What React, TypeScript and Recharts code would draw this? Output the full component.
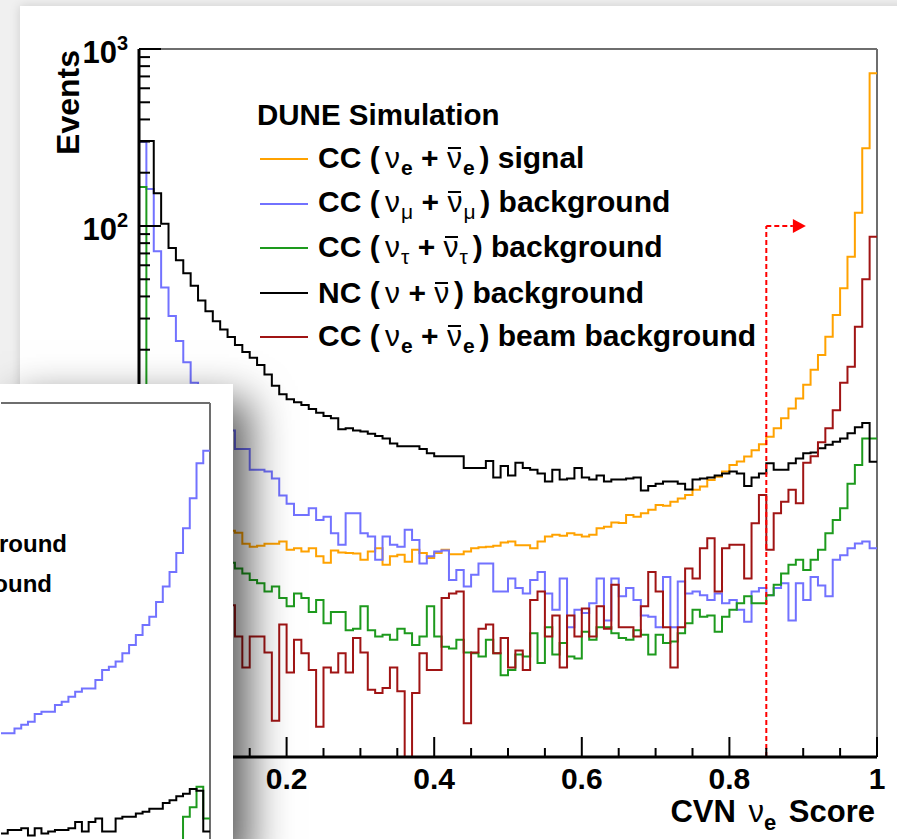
import React from 'react'
import { LineChart, Line, XAxis, YAxis, ReferenceLine, ReferenceDot } from 'recharts'

const FONT = '"Liberation Sans", Arial, Helvetica, sans-serif'

const BIN_WIDTH = 0.01
const MAIN_START = 0
const INSET_START = 0.69

// events per 0.01 bin of CVN nu_e score, bins 0.00 .. 0.99
const ccNueSignal = [
  2.6, 2.2, 2.0, 1.9, 1.9, 1.8, 1.8, 1.75, 1.8, 1.7,
  1.75, 1.8, 1.9, 1.85, 1.6, 1.54, 1.56, 1.6, 1.6, 1.65,
  1.48, 1.51, 1.45, 1.51, 1.36, 1.25, 1.47, 1.43, 1.42, 1.41,
  1.3, 1.45, 1.51, 1.22, 1.36, 1.39, 1.27, 1.48, 1.42, 1.33,
  1.42, 1.48, 1.4, 1.4, 1.45, 1.51, 1.53, 1.54, 1.56, 1.63,
  1.65, 1.57, 1.57, 1.51, 1.65, 1.76, 1.8, 1.78, 1.84, 1.8,
  1.76, 1.8, 1.96, 2.0, 2.11, 2.1, 2.33, 2.28, 2.38, 2.49,
  2.65, 2.63, 2.77, 2.89, 3.02, 3.23, 3.37, 3.67, 3.83, 4.1,
  4.47, 4.67, 4.98, 5.4, 5.85, 6.45, 7.2, 8.2, 9.3, 10.6,
  12.7, 15.4, 18.7, 23.7, 31.4, 44.5, 67, 119, 275, 730,
]

const ccNumuBkg = [
  299, 162, 72, 45, 31, 22.4, 17, 13, 11.5, 10,
  9, 8, 7.0, 5.5, 5.5, 4.2, 4.2, 4.1, 3.75, 3.0,
  2.7, 2.33, 2.33, 2.54, 2.18, 2.28, 1.84, 1.58, 2.38, 2.38,
  1.84, 1.76, 1.3, 1.76, 1.58, 1.54, 1.92, 1.68, 1.24, 1.36,
  1.45, 1.47, 1.0, 1.14, 0.92, 1.07, 1.24, 1.24, 0.86, 0.86,
  1.02, 0.9, 0.84, 1.0, 1.11, 0.84, 0.68, 1.02, 0.54, 0.68,
  0.65, 0.74, 1.02, 0.59, 1.02, 0.81, 0.9, 0.77, 0.63, 0.62,
  0.54, 1.04, 0.54, 0.98, 0.84, 0.86, 0.82, 0.77, 0.84, 0.74,
  0.77, 0.68, 0.58, 0.86, 0.9, 0.82, 0.9, 0.96, 0.59, 0.96,
  0.77, 1.04, 0.93, 0.81, 1.3, 1.38, 1.51, 1.61, 1.65, 1.51,
]

const ccNutauBkg = [
  166, 5.0, 3.4, 2.8, 2.4, 2.1, 1.9, 1.7, 1.6, 1.5,
  1.4, 1.35, 1.25, 1.16, 1.09, 1.0, 0.96, 0.86, 0.92, 0.79,
  0.71, 0.84, 0.79, 0.66, 0.77, 0.57, 0.66, 0.66, 0.52, 0.53,
  0.71, 0.52, 0.48, 0.49, 0.46, 0.53, 0.5, 0.43, 0.48, 0.71,
  0.48, 0.42, 0.41, 0.46, 0.39, 0.385, 0.37, 0.46, 0.385, 0.29,
  0.31, 0.38, 0.37, 0.5, 0.34, 0.54, 0.38, 0.44, 0.37, 0.36,
  0.51, 0.46, 0.54, 0.54, 0.5, 0.47, 0.46, 0.52, 0.49, 0.38,
  0.49, 0.44, 0.45, 0.5, 0.57, 0.68, 0.62, 0.63, 0.51, 0.62,
  0.68, 0.74, 0.81, 0.74, 0.74, 0.82, 0.94, 1.09, 1.22, 1.3,
  1.14, 1.3, 1.48, 1.84, 2.18, 2.54, 3.5, 4.47, 6.3, 6.3,
]

const ncBkg = [
  302, 302, 153, 103, 75, 64, 54, 46, 38, 33,
  29, 26, 23.6, 21.3, 19.4, 18, 16.4, 14.5, 12.5, 11.2,
  10.5, 10.1, 9.75, 9.25, 8.8, 8.45, 8.2, 7.1, 7.2, 7.0,
  6.9, 6.7, 6.5, 6.3, 5.9, 5.7, 5.7, 5.7, 5.5, 5.2,
  5.0, 5.0, 5.0, 5.0, 4.3, 4.3, 4.3, 4.7, 3.8, 4.4,
  3.9, 4.6, 4.3, 4.2, 4.0, 3.6, 4.2, 3.7, 3.75, 4.3,
  3.8, 3.7, 3.9, 3.6, 3.7, 3.7, 3.75, 3.8, 3.2, 3.4,
  3.5, 3.6, 3.6, 3.5, 3.25, 3.7, 3.75, 3.8, 3.9, 4.0,
  4.1, 4.0, 3.4, 3.8, 4.0, 4.56, 4.19, 4.19, 4.56, 4.86,
  5.2, 5.26, 5.55, 5.8, 6.05, 6.3, 6.75, 7.3, 7.7, 4.66,
]

// empty bin at 0.36 sits below the axis floor
const ccNueBeam = [
  2.0, 1.2, 0.9, 0.75, 0.6, 0.8, 0.5, 0.6, 0.45, 0.7,
  0.5, 0.6, 0.72, 0.48, 0.32, 0.48, 0.48, 0.39, 0.16, 0.56,
  0.3, 0.46, 0.385, 0.31, 0.148, 0.32, 0.3, 0.385, 0.3, 0.47,
  0.39, 0.24, 0.23, 0.245, 0.32, 0.235, 0.05, 0.23, 0.385, 0.31,
  0.31, 0.79, 0.84, 0.86, 0.155, 0.39, 0.53, 0.56, 0.385, 0.47,
  0.32, 0.4, 0.31, 0.77, 0.86, 0.48, 0.63, 0.32, 0.63, 0.48,
  0.69, 0.48, 0.71, 0.53, 0.94, 0.54, 0.54, 0.48, 0.71, 1.11,
  0.86, 0.54, 0.32, 0.54, 1.16, 1.02, 1.51, 1.72, 0.86, 1.51,
  1.58, 1.58, 1.02, 2.09, 3.02, 1.48, 2.38, 2.77, 3.23, 2.71,
  4.6, 5.0, 6.0, 7.2, 9.1, 13, 16, 27, 50, 87,
]

// panel behind: bins 0.69 .. 0.99
const insetNumuSignal = [
  13.6, 13.6, 14.5, 15.2, 15.8, 17.5, 18.0, 18.0, 19.7, 20.5,
  21.9, 23.4, 24.4, 24.4, 27.2, 31, 32.4, 34.6, 38.6, 43,
  48.9, 55.7, 62, 75, 92, 111, 142, 196, 290, 456, 537,
]
const insetNc = [
  3.7, 3.87, 3.87, 3.96, 3.6, 3.96, 3.7, 3.8, 3.87, 3.87,
  3.96, 4.3, 3.8, 4.3, 4.5, 3.8, 3.8, 4.5, 4.6, 4.6,
  4.8, 4.9, 5.1, 5.1, 5.5, 5.7, 6.0, 6.2, 6.6, 6.45, 3.8,
]
const insetNutau = [
  1.6, 1.7, 1.6, 1.8, 1.7, 1.9, 1.8, 1.9, 2.0, 1.9,
  2.0, 2.1, 2.0, 2.1, 2.2, 2.1, 2.3, 2.2, 2.4, 2.3,
  2.5, 2.4, 2.6, 2.6, 2.7, 2.9, 3.0, 4.6, 5.2, 6.8, 4.5,
]

const xTicks = [0, 0.05, 0.1, 0.15, 0.2, 0.25, 0.3, 0.35, 0.4, 0.45, 0.5, 0.55, 0.6, 0.65, 0.7, 0.75, 0.8, 0.85, 0.9, 0.95, 1]
const xMajorTicks = [0, 0.2, 0.4, 0.6, 0.8, 1]
const xTickLabels = ['0', '0.2', '0.4', '0.6', '0.8', '1']

const yDecades = [0.1, 1, 10, 100, 1000]
const yDecadeBase = ['10', '1', '10', '10', '10']
const yDecadeExp = ['-1', '', '', '2', '3']
const yMinorSteps = [2, 3, 4, 5, 6, 7, 8, 9]

// selection cut on the score
const CUT_VALUE = 0.85
const CUT_ARROW_LEVEL = 100
const CUT_ARROW_END = 0.886

const C_SIGNAL = '#ffa200'
const C_NUMU = '#7272ff'
const C_NUTAU = '#1d9a1d'
const C_NC = '#000000'
const C_BEAM = '#a01414'
const C_FRAME = '#6e6e6e'

const legendEntries = [
  { prefix: 'CC', flavour: 'e', suffix: 'signal', color: C_SIGNAL },
  { prefix: 'CC', flavour: 'μ', suffix: 'background', color: C_NUMU },
  { prefix: 'CC', flavour: 'τ', suffix: 'background', color: C_NUTAU },
  { prefix: 'NC', flavour: '', suffix: 'background', color: C_NC },
  { prefix: 'CC', flavour: 'e', suffix: 'beam background', color: C_BEAM },
]

const insetLegend = [
  { prefix: 'CC', flavour: 'τ', suffix: 'background' },
  { prefix: 'NC', flavour: '', suffix: 'background' },
]

const yTicks = yDecades
  .slice(0, -1)
  .flatMap((d) => [d, ...yMinorSteps.map((m) => d * m)])
  .concat(yDecades[yDecades.length - 1])

// one row per bin low edge, plus a closing row so stepAfter draws the last bin
function histTable(series: Record<string, number[]>, start: number) {
  const keys = Object.keys(series)
  const n = series[keys[0]].length
  const rows: Record<string, number>[] = []
  for (let i = 0; i <= n; i++) {
    const row: Record<string, number> = { x: +(start + i * BIN_WIDTH).toFixed(4) }
    keys.forEach((k) => {
      row[k] = series[k][Math.min(i, n - 1)]
    })
    rows.push(row)
  }
  return rows
}

const mainData = histTable(
  { signal: ccNueSignal, numu: ccNumuBkg, nutau: ccNutauBkg, nc: ncBkg, beam: ccNueBeam },
  MAIN_START,
)
const insetData = histTable({ numu: insetNumuSignal, nc: insetNc, nutau: insetNutau }, INSET_START)

const mainLines = [
  { key: 'signal', color: C_SIGNAL },
  { key: 'numu', color: C_NUMU },
  { key: 'nutau', color: C_NUTAU },
  { key: 'nc', color: C_NC },
  { key: 'beam', color: C_BEAM },
]

function YTick({ x, y, payload }: any) {
  const v = payload.value
  const idx = yDecades.findIndex((d) => Math.abs(d - v) / d < 1e-6)
  const major = idx >= 0
  return (
    <g>
      <line x1={x} x2={x + (major ? 22 : 11)} y1={y} y2={y} stroke="#000" strokeWidth={2} />
      {major && (
        <text x={x - 11} y={y + 14} textAnchor="end" fontSize={31} fontWeight="bold" fontFamily={FONT} fill="#000">
          <tspan>{yDecadeBase[idx]}</tspan>
          {yDecadeExp[idx] && (
            <tspan dy={-13} fontSize={20}>
              {yDecadeExp[idx]}
            </tspan>
          )}
        </text>
      )}
    </g>
  )
}

function XTick({ x, y, payload }: any) {
  const idx = xMajorTicks.indexOf(payload.value)
  const major = idx >= 0
  return (
    <g>
      <line x1={x} x2={x} y1={y} y2={y - (major ? 20 : 9)} stroke="#000" strokeWidth={2} />
      {major && (
        <text x={x} y={y + 32} textAnchor="middle" fontSize={30} fontWeight="bold" fontFamily={FONT} fill="#000">
          {xTickLabels[idx]}
        </text>
      )}
    </g>
  )
}

function XTitle({ viewBox }: any) {
  return (
    <text
      x={viewBox.x + viewBox.width - 2}
      y={viewBox.y + 65}
      textAnchor="end"
      fontSize={31}
      fontWeight="bold"
      fontFamily={FONT}
      fill="#000"
    >
      CVN <tspan dx={4} fontWeight="normal">ν</tspan>
      <tspan dy={8} fontSize={22}>e</tspan>
      <tspan dy={-8} dx={4}> Score</tspan>
    </text>
  )
}

function YTitle({ viewBox }: any) {
  const x = viewBox.x + viewBox.width - 60
  const y = viewBox.y + 1
  return (
    <text
      transform={`translate(${x},${y}) rotate(-90)`}
      textAnchor="end"
      fontSize={32}
      fontWeight="bold"
      fontFamily={FONT}
      fill="#000"
    >
      Events
    </text>
  )
}

function CutArrowHead({ cx, cy }: any) {
  return <path d={`M${cx},${cy - 7} L${cx + 13},${cy} L${cx},${cy + 7} Z`} fill="#ff0000" />
}

function Nu({ bar, size }: { bar?: boolean; size: number }) {
  return (
    <span style={{ position: 'relative', display: 'inline-block', fontWeight: 400 }}>
      ν
      {bar && (
        <span
          style={{
            position: 'absolute',
            left: 1,
            right: 1,
            top: size * 0.14,
            height: Math.max(1.5, size / 16),
            background: 'currentColor',
          }}
        />
      )}
    </span>
  )
}

function Sub({ text, size }: { text: string; size: number }) {
  if (!text) return null
  return (
    <span
      style={{
        fontSize: size * 0.7,
        position: 'relative',
        top: size * 0.24,
        marginLeft: 1,
        fontWeight: text === 'e' ? 700 : 400,
      }}
    >
      {text}
    </span>
  )
}

function EntryLabel({ prefix, flavour, suffix, size }: { prefix: string; flavour: string; suffix: string; size: number }) {
  return (
    <span
      style={{
        fontFamily: FONT,
        fontWeight: 700,
        fontSize: size,
        lineHeight: `${size}px`,
        whiteSpace: 'nowrap',
        color: '#000',
      }}
    >
      {prefix} (
      <span style={{ marginLeft: size * 0.18 }} />
      <Nu size={size} />
      <Sub text={flavour} size={size} /> + <Nu bar size={size} />
      <Sub text={flavour} size={size} />
      <span style={{ marginLeft: size * 0.16 }} />) {suffix}
    </span>
  )
}

function MainLegend() {
  return (
    <>
      <div
        style={{
          position: 'absolute',
          left: 257,
          top: 100,
          fontFamily: FONT,
          fontWeight: 700,
          fontSize: 29.5,
          lineHeight: '30px',
          whiteSpace: 'nowrap',
        }}
      >
        DUNE Simulation
      </div>
      <div style={{ position: 'absolute', left: 260, top: 144 }}>
        {legendEntries.map((e) => (
          <div key={e.suffix + e.color} style={{ display: 'flex', alignItems: 'center', height: 30, marginBottom: 14.5 }}>
            <div style={{ width: 48, height: 2, background: e.color }} />
            <div style={{ marginLeft: 10 }}>
              <EntryLabel prefix={e.prefix} flavour={e.flavour} suffix={e.suffix} size={30} />
            </div>
          </div>
        ))}
      </div>
    </>
  )
}

function InsetPanel() {
  return (
    <div
      style={{
        position: 'absolute',
        left: 0,
        top: 384,
        width: 233,
        height: 470,
        background: '#fff',
        overflow: 'hidden',
        boxShadow: '16px 16px 40px rgba(0,0,0,0.65)',
      }}
    >
      <LineChart
        width={233}
        height={727}
        data={insetData}
        margin={{ top: 19, right: 23, bottom: 0, left: 1 }}
        style={{ position: 'absolute', left: 0, top: 0 }}
      >
        <XAxis type="number" dataKey="x" domain={[INSET_START, 1]} hide />
        <YAxis type="number" scale="log" domain={[0.1, 1000]} allowDataOverflow hide />
        <ReferenceLine y={1000} stroke={C_FRAME} strokeWidth={2} />
        <ReferenceLine x={1} stroke={C_FRAME} strokeWidth={2} />
        <Line type="stepAfter" dataKey="numu" stroke={C_NUMU} strokeWidth={2} dot={false} activeDot={false} isAnimationActive={false} />
        <Line type="stepAfter" dataKey="nutau" stroke={C_NUTAU} strokeWidth={2} dot={false} activeDot={false} isAnimationActive={false} />
        <Line type="stepAfter" dataKey="nc" stroke={C_NC} strokeWidth={2} dot={false} activeDot={false} isAnimationActive={false} />
      </LineChart>
      {insetLegend.map((e, i) => (
        <div
          key={e.prefix + i}
          style={{ position: 'absolute', right: 233 - (i === 0 ? 67 : 52), top: 148 + i * 40, lineHeight: '24px' }}
        >
          <EntryLabel prefix={e.prefix} flavour={e.flavour} suffix={e.suffix} size={24} />
        </div>
      ))}
    </div>
  )
}

export default function App() {
  return (
    <div
      style={{
        position: 'absolute',
        left: 0,
        top: 0,
        width: 897,
        height: 839,
        overflow: 'hidden',
        background: '#f0f0f0',
      }}
    >
      <div
        style={{
          position: 'absolute',
          left: 20,
          top: 6,
          width: 920,
          height: 880,
          background: '#fff',
          boxShadow: '0 0 10px rgba(0,0,0,0.15)',
        }}
      />
      <LineChart
        width={897}
        height={839}
        data={mainData}
        margin={{ top: 49, right: 20, bottom: 0, left: 0 }}
        style={{ position: 'absolute', left: 0, top: 0 }}
      >
        <XAxis
          type="number"
          dataKey="x"
          domain={[0, 1]}
          ticks={xTicks}
          interval={0}
          height={82}
          tickSize={0}
          tickMargin={0}
          tickLine={false}
          tick={(p: any) => <XTick {...p} />}
          axisLine={{ stroke: '#000', strokeWidth: 3 }}
          label={(p: any) => <XTitle {...p} />}
        />
        <YAxis
          type="number"
          scale="log"
          domain={[0.1, 1000]}
          allowDataOverflow
          ticks={yTicks}
          interval={0}
          width={139}
          tickSize={0}
          tickMargin={0}
          tickLine={false}
          tick={(p: any) => <YTick {...p} />}
          axisLine={{ stroke: '#000', strokeWidth: 3 }}
          label={(p: any) => <YTitle {...p} />}
        />
        <ReferenceLine y={1000} stroke={C_FRAME} strokeWidth={2} />
        <ReferenceLine x={1} stroke={C_FRAME} strokeWidth={2} />
        {mainLines.map((s) => (
          <Line
            key={s.key}
            type="stepAfter"
            dataKey={s.key}
            stroke={s.color}
            strokeWidth={2}
            dot={false}
            activeDot={false}
            isAnimationActive={false}
          />
        ))}
        <ReferenceLine
          segment={[
            { x: CUT_VALUE, y: 0.1 },
            { x: CUT_VALUE, y: CUT_ARROW_LEVEL },
          ]}
          stroke="#ff0000"
          strokeWidth={2}
          strokeDasharray="5 3"
        />
        <ReferenceLine
          segment={[
            { x: CUT_VALUE, y: CUT_ARROW_LEVEL },
            { x: CUT_ARROW_END, y: CUT_ARROW_LEVEL },
          ]}
          stroke="#ff0000"
          strokeWidth={2}
          strokeDasharray="5 3"
        />
        <ReferenceDot x={CUT_ARROW_END} y={CUT_ARROW_LEVEL} r={7} shape={(p: any) => <CutArrowHead {...p} />} />
      </LineChart>
      <MainLegend />
      <InsetPanel />
    </div>
  )
}
